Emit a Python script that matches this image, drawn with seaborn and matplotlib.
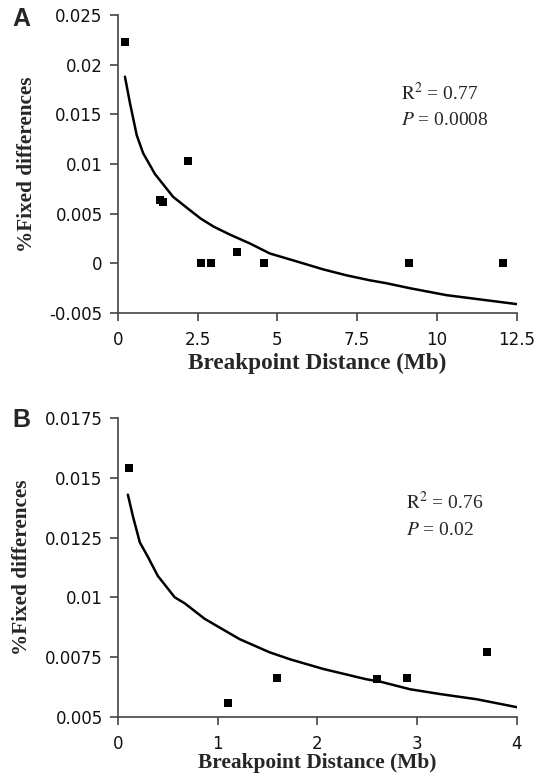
import matplotlib
matplotlib.use("Agg")
import matplotlib.pyplot as plt
import seaborn as sns
import pandas as pd

# panel A: breakpoint distance (Mb) vs % fixed differences
a_dist = [0.22, 1.32, 1.42, 2.2, 2.61, 2.93, 3.72, 4.59, 9.12, 12.08]
a_fixed = [0.0223, 0.0064, 0.0062, 0.0103, 0.0, 0.0, 0.00116, 0.0, 0.0, 0.0]
# fitted trend line
a_fit_x = [0.22, 0.38, 0.59, 0.79, 1.16, 1.73, 2.2, 2.6, 3.0, 3.51, 4.14, 4.76,
           5.6, 6.43, 7.16, 7.89, 8.42, 9.15, 10.3, 12.5]
a_fit_y = [0.0188, 0.0161, 0.0129, 0.0111, 0.0090, 0.0067, 0.0055, 0.0045, 0.0037,
           0.0029, 0.0020, 0.0010, 0.0002, -0.0006, -0.0012, -0.0017, -0.0020,
           -0.0025, -0.0032, -0.0041]

# panel B
b_dist = [0.107, 1.10, 1.60, 2.60, 2.90, 3.70]
b_fixed = [0.01543, 0.00559, 0.00663, 0.00657, 0.00664, 0.00771]
b_fit_x = [0.10, 0.15, 0.22, 0.30, 0.40, 0.57, 0.67, 0.87, 1.22, 1.52, 1.73,
           2.06, 2.49, 2.63, 2.93, 3.23, 3.60, 4.0]
b_fit_y = [0.0143, 0.0134, 0.0123, 0.0117, 0.0109, 0.0100, 0.00975, 0.0091,
           0.00825, 0.0077, 0.0074, 0.0070, 0.00657, 0.00647, 0.00615, 0.00595,
           0.00573, 0.0054]

a_xticks = [0, 2.5, 5, 7.5, 10, 12.5]
a_xlabels = ["0", "2.5", "5", "7.5", "10", "12.5"]
a_yticks = [-0.005, 0, 0.005, 0.01, 0.015, 0.02, 0.025]
a_ylabels = ["-0.005", "0", "0.005", "0.01", "0.015", "0.02", "0.025"]
b_xticks = [0, 1, 2, 3, 4]
b_xlabels = ["0", "1", "2", "3", "4"]
b_yticks = [0.005, 0.0075, 0.01, 0.0125, 0.015, 0.0175]
b_ylabels = ["0.005", "0.0075", "0.01", "0.0125", "0.015", "0.0175"]

sns.set_style("ticks")
plt.rcParams['font.family'] = ['DejaVu Sans']
plt.rcParams['mathtext.fontset'] = 'stix'

fig = plt.figure(figsize=(5.36, 7.82), dpi=100)
axA = fig.add_axes([0.220, 0.5997, 0.744, 0.381])
axB = fig.add_axes([0.220, 0.0835, 0.744, 0.3816])

serif = ['Liberation Serif', 'DejaVu Serif']


def draw_panel(ax, dist, fixed, fx, fy, xt, xl, yt, yl, stats, letter, xlab):
    pts = pd.DataFrame({'dist': dist, 'fixed': fixed})
    fit = pd.DataFrame({'x': fx, 'y': fy})
    sns.lineplot(data=fit, x='x', y='y', ax=ax, color='black', linewidth=1.8,
                 sort=False)
    sns.scatterplot(data=pts, x='dist', y='fixed', ax=ax, marker='s', s=26,
                    color='black', edgecolor='black', linewidth=0, zorder=3)
    ax.set_xlim(xt[0], xt[-1])
    ax.set_ylim(yt[0], yt[-1])
    ax.set_xticks(xt)
    ax.set_xticklabels(xl)
    ax.set_yticks(yt)
    ax.set_yticklabels(yl)
    ax.tick_params(axis='both', labelsize=12, length=6, width=1.2,
                   color='#444444', labelcolor='#111111')
    ax.tick_params(axis='x', pad=7)
    ax.tick_params(axis='y', pad=5)
    for side in ['top', 'right']:
        ax.spines[side].set_visible(False)
    for side in ['left', 'bottom']:
        ax.spines[side].set_color('#444444')
        ax.spines[side].set_linewidth(1.2)
    ax.set_xlabel('Breakpoint Distance (Mb)', family=serif, fontweight='bold',
                  fontsize=xlab[0], va='center')
    ax.xaxis.set_label_coords(0.5, xlab[1])
    ax.set_ylabel('%Fixed differences', family=serif, fontweight='bold',
                  fontsize=15.3, labelpad=9)
    ax.text(stats[0], stats[1], stats[2], transform=ax.transAxes,
            family=serif, fontsize=14, va='center', ha='left')
    ax.text(stats[0], stats[1] - 0.095, stats[3], transform=ax.transAxes,
            family=serif, fontsize=14, va='center', ha='left')
    ax.text(stats[4], stats[5], letter, transform=ax.transAxes, fontsize=18,
            fontweight='bold', va='center', ha='left',
            family=['Liberation Sans', 'DejaVu Sans'])


draw_panel(axA, a_dist, a_fixed, a_fit_x, a_fit_y, a_xticks, a_xlabels,
           a_yticks, a_ylabels,
           (0.71, 0.74, r'$\mathrm{R}^{2}$ = 0.77', r'$\mathit{P}$ = 0.0008',
            -0.265, 0.987), 'A', (16.7, -0.168))
draw_panel(axB, b_dist, b_fixed, b_fit_x, b_fit_y, b_xticks, b_xlabels,
           b_yticks, b_ylabels,
           (0.723, 0.72, r'$\mathrm{R}^{2}$ = 0.76', r'$\mathit{P}$ = 0.02',
            -0.265, 0.993), 'B', (15.4, -0.156))

fig.savefig('out.png', dpi=100)
